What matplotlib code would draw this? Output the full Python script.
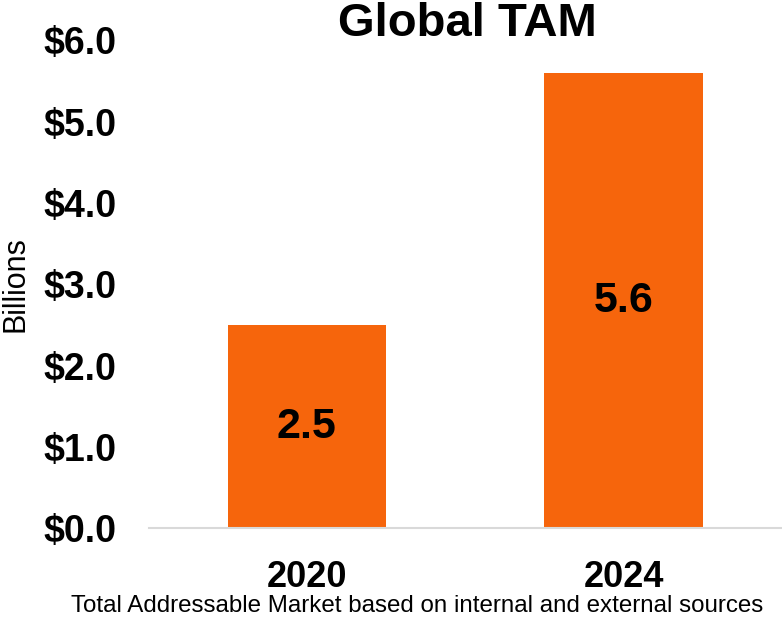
import matplotlib
matplotlib.use('Agg')
import matplotlib.pyplot as plt

# data
years = ['2020', '2024']
tam_billions = [2.5, 5.6]
y_ticks = [0, 1, 2, 3, 4, 5, 6]
y_tick_labels = ['$0.0', '$1.0', '$2.0', '$3.0', '$4.0', '$5.0', '$6.0']

plt.rcParams['font.family'] = ['Liberation Sans', 'DejaVu Sans']

fig = plt.figure(figsize=(7.82, 6.2), dpi=100)
ax = fig.add_axes([0.19, 0.148, 0.81, 0.787])

x = range(len(years))
bars = ax.bar(x, tam_billions, width=0.5, color='#F6650C', zorder=2)

# valores dentro das barras
for xi, v in zip(x, tam_billions):
    ax.text(xi, v / 2, f'{v:.1f}', ha='center', va='center',
            fontsize=31, fontweight='bold', color='black')

ax.set_xlim(-0.5, 1.5)
ax.set_ylim(0, 6)
ax.set_xticks(list(x))
ax.set_xticklabels(years, fontsize=26, fontweight='bold')
ax.set_yticks(y_ticks)
ax.set_yticklabels(y_tick_labels, fontsize=27, fontweight='bold')
ax.tick_params(length=0)
ax.tick_params(axis='x', pad=23)
ax.tick_params(axis='y', pad=23)

for s in ['top', 'right', 'left']:
    ax.spines[s].set_visible(False)
ax.spines['bottom'].set_color('#d9d9d9')
ax.spines['bottom'].set_linewidth(1.5)

ax.set_ylabel('Billions', fontsize=22)
ax.yaxis.set_label_coords(-0.187, 0.5)

fig.text(0.598, 0.962, 'Global TAM', ha='center', va='center',
         fontsize=34, fontweight='bold')
fig.text(0.534, 0.023, 'Total Addressable Market based on internal and external sources',
         ha='center', va='center', fontsize=17.4)

fig.savefig('out.png', dpi=100)
